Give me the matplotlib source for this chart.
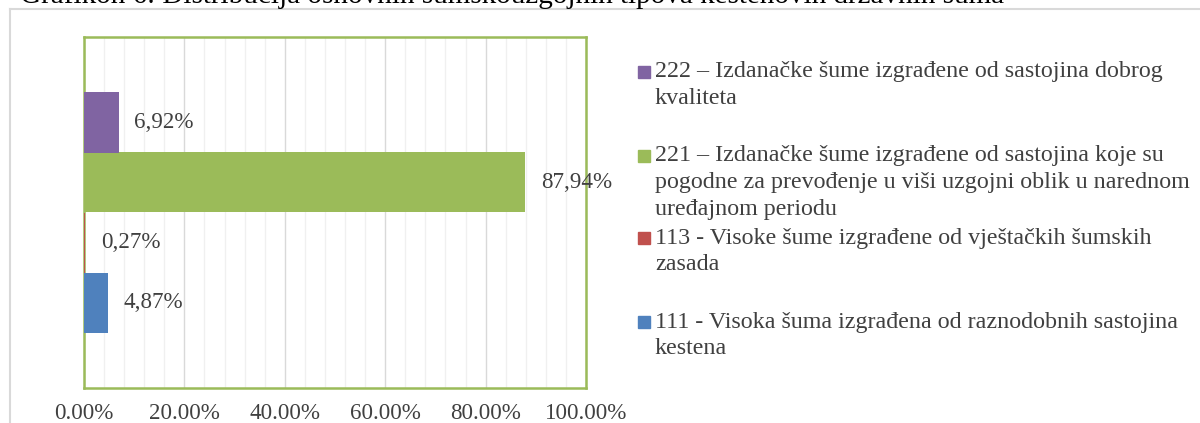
import matplotlib.pyplot as plt
from matplotlib.lines import Line2D
from matplotlib.patches import Rectangle
import numpy as np

# data (bottom to top, as drawn)
codes = ["111", "113", "221", "222"]
shares = [4.87, 0.27, 87.94, 6.92]
value_labels = ["4,87%", "0,27%", "87,94%", "6,92%"]
colors = ["#4F81BD", "#C0504D", "#9BBB59", "#8064A2"]
legend_labels = [
    "222 – Izdanačke šume izgrađene od sastojina dobrog\nkvaliteta",
    "221 – Izdanačke šume izgrađene od sastojina koje su\npogodne za prevođenje u viši uzgojni oblik u narednom\nuređajnom periodu",
    "113 - Visoke šume izgrađene od vještačkih šumskih\nzasada",
    "111 - Visoka šuma izgrađena od raznodobnih sastojina\nkestena",
]
legend_colors = ["#8064A2", "#9BBB59", "#C0504D", "#4F81BD"]
x_ticks = [0, 20, 40, 60, 80, 100]
x_ticklabels = ["0.00%", "20.00%", "40.00%", "60.00%", "80.00%", "100.00%"]
title = "Grafikon 6: Distribucija osnovnih šumskouzgojnih tipova kestenovih državnih šuma"

W, H = 1200, 423
FS_LEG = 17.3
FS_LAB = 16.6
TXT = "#404040"

plt.rcParams["font.family"] = ["Liberation Serif", "DejaVu Serif"]

fig = plt.figure(figsize=(W / 100, H / 100), dpi=100)


def px(x, y):
    # figure pixel (from top-left) -> figure fraction
    return x / W, 1 - y / H


# outer chart border
fig.add_artist(Line2D([10 / W, 1], [1 - 9 / H] * 2, color="#d9d9d9", lw=1.5))
fig.add_artist(Line2D([10 / W] * 2, [0, 1 - 9 / H], color="#d9d9d9", lw=1.5))

# title, cut off at the top like the reference
fig.text(*px(20, 3), title, fontsize=21, color="black", va="baseline", ha="left")

left, right, top, bottom = 84, 586, 37, 388
ax = fig.add_axes([left / W, 1 - bottom / H, (right - left) / W, (bottom - top) / H])

h = 60 / (bottom - top)
ypos = [(i - 1.5) * h for i in range(len(codes))]
ax.barh(ypos, shares, height=h, color=colors, zorder=3)

for y, v, lab in zip(ypos, shares, value_labels):
    ax.annotate(lab, (v, y), xytext=(11, 0), textcoords="offset points",
                va="center", ha="left", fontsize=FS_LAB, color=TXT, zorder=4)

ax.set_xlim(0, 100)
ax.set_ylim(-0.5, 0.5)
ax.set_xticks(x_ticks)
ax.set_xticklabels(x_ticklabels, fontsize=FS_LAB, color=TXT)
ax.set_xticks(np.arange(0, 101, 4), minor=True)
ax.set_yticks([])
ax.tick_params(axis="x", which="both", length=0, pad=11)
ax.grid(axis="x", which="minor", color="#f0f0f0", lw=1, zorder=0)
ax.grid(axis="x", which="major", color="#d9d9d9", lw=1, zorder=1)
for s in ax.spines.values():
    s.set_color("#9BBB59")
    s.set_linewidth(1.8)

# legend drawn by hand to match the wrapped entries
entry_y = [72, 156, 238, 322]
line_gap = 26.5
for y, lab, c in zip(entry_y, legend_labels, legend_colors):
    fig.add_artist(Rectangle(px(638, y + 6), 12 / W, 12 / H, color=c,
                             transform=fig.transFigure))
    for k, line in enumerate(lab.split("\n")):
        fig.text(*px(655, y + k * line_gap), line, fontsize=FS_LEG, color=TXT,
                 va="center", ha="left")

fig.savefig("out.png", dpi=100)
